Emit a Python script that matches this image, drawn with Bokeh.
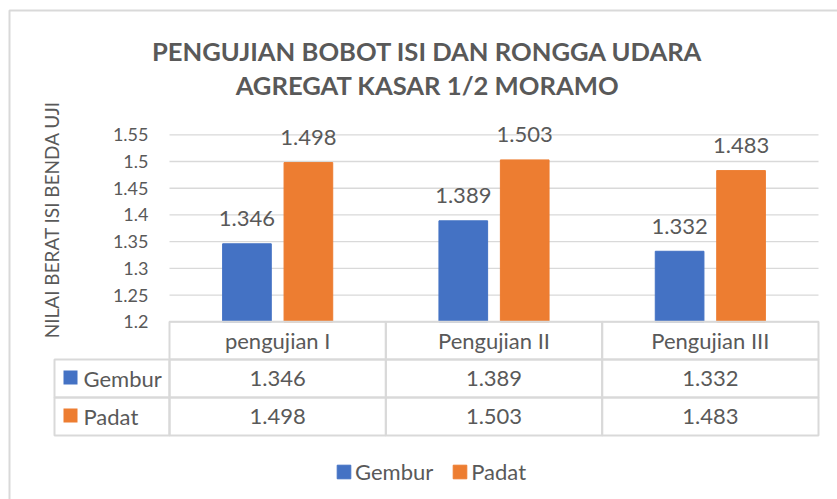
import numpy as np
from bokeh.plotting import figure
from bokeh.models import ColumnDataSource, Range1d, Legend, LegendItem
from bokeh.core.properties import value
from bokeh.transform import dodge
from bokeh.embed import file_html
from bokeh.resources import INLINE

# ---------------- data ----------------
categories = ["pengujian I", "Pengujian II", "Pengujian III"]
series_names = ["Gembur", "Padat"]
gembur = [1.346, 1.389, 1.332]
padat = [1.498, 1.503, 1.483]
y_ticks = [1.2, 1.25, 1.3, 1.35, 1.4, 1.45, 1.5, 1.55]
y_tick_labels = ["1.2", "1.25", "1.3", "1.35", "1.4", "1.45", "1.5", "1.55"]
title_lines = ["PENGUJIAN BOBOT ISI DAN RONGGA UDARA", "AGREGAT KASAR 1/2 MORAMO"]
y_label = "NILAI BERAT ISI BENDA UJI"

# ---------------- style / layout (pixels) ----------------
colors = ["#4472C4", "#ED7D31"]
TEXT = "#595959"
LINE = "#d9d9d9"
FONT = "Lato"

W, H = 837, 499
PLOT_L, PLOT_R = 169, 818                 # plot area / table columns
Y_LO_PX, Y_HI_PX = 321.3, 134.3           # pixel rows of first / last tick
ROWS_PX = [Y_LO_PX, 359, 397, 435]        # table row edges
LAB_L = 54                                # left edge of the table label column
Y_LO, Y_HI = y_ticks[0], y_ticks[-1]
YPP = (Y_HI - Y_LO) / (Y_LO_PX - Y_HI_PX)
XPP = len(categories) / (PLOT_R - PLOT_L)

def px_x(px):
    return -0.5 + (px - PLOT_L) * XPP

def px_y(py):
    return Y_LO - (py - Y_LO_PX) * YPP

p = figure(width=W, height=H, output_backend="svg", toolbar_location=None,
           x_range=Range1d(px_x(0), px_x(W)), y_range=Range1d(px_y(H), px_y(0)),
           x_axis_location=None, y_axis_location=None, title=None,
           min_border=0)
p.outline_line_color = None
p.grid.visible = False
p.background_fill_color = "white"
p.border_fill_color = "white"

# outer chart border (left / top edges visible)
p.quad(left=[px_x(9)], right=[px_x(W + 60)], top=[px_y(10)], bottom=[px_y(H + 60)],
       fill_color=None, line_color=LINE, line_width=2)

# value axis: gridlines + tick labels
p.segment(x0=-0.5, x1=len(categories) - 0.5, y0=y_ticks, y1=y_ticks,
          line_color=LINE, line_width=1.3)
p.text(x=px_x(148), y=y_ticks, text=y_tick_labels,
       text_font=value(FONT), text_font_size="18px", text_color=TEXT,
       text_align="right", text_baseline="middle")
p.text(x=[px_x(51)], y=[px_y(219)], text=[y_label], angle=np.pi / 2,
       text_font=value(FONT), text_font_size="19px", text_color=TEXT,
       text_align="center", text_baseline="middle")

# title
for line, mid_py in zip(title_lines, [50, 84]):
    p.text(x=[px_x(427)], y=[px_y(mid_py)], text=[line],
           text_font=value(FONT), text_font_size="25.6px", text_font_style="bold",
           text_color=TEXT, text_align="center", text_baseline="middle")

src = ColumnDataSource(dict(
    x=list(range(len(categories))), cat=categories,
    gembur=gembur, padat=padat,
    g_lbl=[f"{v:.3f}" for v in gembur], p_lbl=[f"{v:.3f}" for v in padat]))

BAR_W = 0.225
OFF = 0.142
rg = p.vbar(x=dodge("x", -OFF, range=p.x_range), top="gembur", bottom=Y_LO, width=BAR_W,
            source=src, fill_color=colors[0], line_color=colors[0])
rp = p.vbar(x=dodge("x", OFF, range=p.x_range), top="padat", bottom=Y_LO, width=BAR_W,
            source=src, fill_color=colors[1], line_color=colors[1])

txt = dict(text_font=value(FONT), text_font_size="22px", text_color=TEXT,
           text_align="center", text_baseline="middle", source=src)
p.text(x=dodge("x", -OFF, range=p.x_range), y="gembur", text="g_lbl", y_offset=-25, **txt)
p.text(x=dodge("x", OFF, range=p.x_range), y="padat", text="p_lbl", y_offset=-25, **txt)

# ---------------- data table ----------------
mids = [(ROWS_PX[r] + ROWS_PX[r + 1]) / 2 for r in range(3)]
p.text(x="x", y=px_y(mids[0]), text="cat", **txt)
p.text(x="x", y=px_y(mids[1]), text="g_lbl", **txt)
p.text(x="x", y=px_y(mids[2]), text="p_lbl", **txt)

cl, cr, ct, cb = [], [], [], []
for r in range(3):
    for i in range(len(categories)):
        cl.append(i - 0.5); cr.append(i + 0.5)
        ct.append(px_y(ROWS_PX[r])); cb.append(px_y(ROWS_PX[r + 1]))
    if r > 0:
        cl.append(px_x(LAB_L)); cr.append(-0.5)
        ct.append(px_y(ROWS_PX[r])); cb.append(px_y(ROWS_PX[r + 1]))
p.quad(left=cl, right=cr, top=ct, bottom=cb, fill_color=None,
       line_color=LINE, line_width=2)

smids = mids[1:]
p.quad(left=px_x(63), right=px_x(77), top=[px_y(m - 8) for m in smids],
       bottom=[px_y(m + 6) for m in smids], fill_color=colors, line_color=None)
p.text(x=px_x(83), y=[px_y(m) for m in smids], text=series_names,
       text_font=value(FONT), text_font_size="22px", text_color=TEXT,
       text_align="left", text_baseline="middle")

# legend below the table
legend = Legend(items=[LegendItem(label=series_names[0], renderers=[rg]),
                       LegendItem(label=series_names[1], renderers=[rp])],
                orientation="horizontal", location=(335, 14),
                glyph_width=17, glyph_height=17, label_standoff=3, spacing=18,
                padding=0, margin=0, border_line_color=None, background_fill_alpha=0,
                label_text_font=FONT, label_text_font_size="22px", label_text_color=TEXT)
p.add_layout(legend, "center")

open("out.html", "w").write(file_html(p, INLINE))
